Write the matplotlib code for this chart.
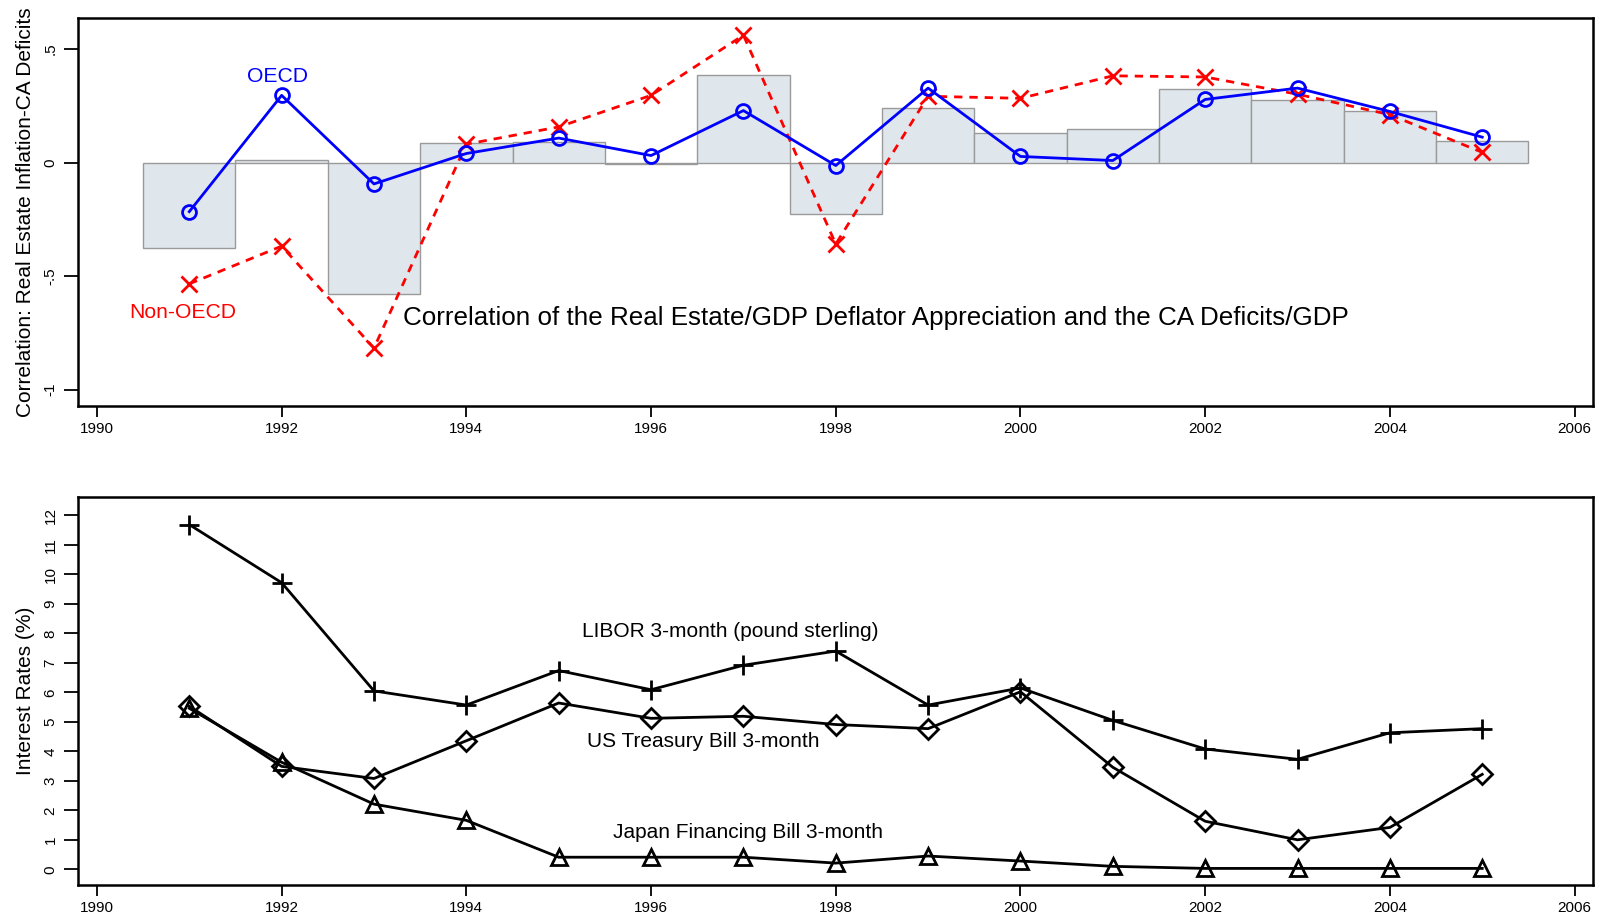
import numpy as np
import matplotlib
matplotlib.use("Agg")
import matplotlib.pyplot as plt

plt.rcParams['font.family'] = ['Liberation Sans', 'DejaVu Sans']

years = np.arange(1991, 2006)

# top panel: correlations
corr_all = [-0.377, 0.013, -0.58, 0.085, 0.09, -0.005, 0.386, -0.225,
            0.242, 0.13, 0.148, 0.323, 0.274, 0.229, 0.094]
corr_oecd = [-0.216, 0.296, -0.094, 0.04, 0.108, 0.031, 0.229, -0.013,
             0.328, 0.027, 0.009, 0.278, 0.328, 0.225, 0.112]
corr_non_oecd = [-0.534, -0.368, -0.817, 0.081, 0.157, 0.296, 0.561, -0.359,
                 0.292, 0.283, 0.382, 0.377, 0.301, 0.211, 0.045]

# bottom panel: interest rates (%)
libor = [11.69, 9.72, 6.05, 5.57, 6.74, 6.09, 6.92, 7.40,
         5.57, 6.15, 5.05, 4.08, 3.73, 4.63, 4.77]
us_tbill = [5.53, 3.49, 3.08, 4.36, 5.64, 5.12, 5.19, 4.91,
            4.77, 6.02, 3.46, 1.63, 1.00, 1.42, 3.22]
japan_fb = [5.46, 3.63, 2.21, 1.66, 0.41, 0.41, 0.41, 0.21,
            0.45, 0.28, 0.10, 0.03, 0.03, 0.03, 0.03]

xticks = np.arange(1990, 2007, 2)

fig = plt.figure(figsize=(15.98, 9.19), dpi=100)
ax1 = fig.add_axes([0.0491, 0.5587, 0.9478, 0.4213])
ax2 = fig.add_axes([0.0491, 0.0374, 0.9478, 0.4216])

def style_axes(ax):
    for s in ax.spines.values():
        s.set_linewidth(1.8)
    ax.tick_params(axis='x', direction='out', length=8, width=1.3, labelsize=11, pad=4)
    ax.tick_params(axis='y', direction='out', length=10, width=1.3, labelsize=11, pad=5)
    ax.set_xlim(1989.8, 2006.2)
    ax.set_xticks(xticks)
    ax.set_xticklabels([str(t) for t in xticks])
    for lab in ax.get_yticklabels():
        lab.set_rotation(90)
        lab.set_va('center')

# top
ax1.bar(years, corr_all, width=1.0, color='#dfe7ec', edgecolor='#9a9a9a', linewidth=1.0, zorder=1)
ax1.plot(years, corr_oecd, color='blue', lw=2, marker='o', ms=10, mfc='none', mew=2, zorder=3)
ax1.plot(years, corr_non_oecd, color='red', lw=2, ls=(0, (3, 2.5)), marker='x', ms=11, mew=2, zorder=2)
ax1.set_ylim(-1.07, 0.635)
ax1.set_yticks([-1, -0.5, 0, 0.5])
ax1.set_yticklabels(['-1', '-.5', '0', '.5'])
style_axes(ax1)
ax1.set_ylabel('Correlation: Real Estate Inflation-CA Deficits', fontsize=15, labelpad=6)
ax1.text(1991.95, 0.38, 'OECD', color='blue', fontsize=15.2, ha='center', va='center')
ax1.text(1990.93, -0.66, 'Non-OECD', color='red', fontsize=15.2, ha='center', va='center')
ax1.text(1998.43, -0.685, 'Correlation of the Real Estate/GDP Deflator Appreciation and the CA Deficits/GDP',
         fontsize=18.7, ha='center', va='center')

# bottom
ax2.plot(years, libor, color='black', lw=2, marker='+', ms=14, mew=2)
ax2.plot(years, us_tbill, color='black', lw=2, marker='D', ms=10, mfc='none', mew=2)
ax2.plot(years, japan_fb, color='black', lw=2, marker='^', ms=11, mfc='none', mew=2)
ax2.set_ylim(-0.52, 12.62)
ax2.set_yticks(np.arange(0, 13))
style_axes(ax2)
ax2.set_ylabel('Interest Rates (%)', fontsize=15, labelpad=6)
ax2.text(1996.86, 8.06, 'LIBOR 3-month (pound sterling)', fontsize=15, ha='center', va='center')
ax2.text(1996.56, 4.32, 'US Treasury Bill 3-month', fontsize=15, ha='center', va='center')
ax2.text(1997.05, 1.24, 'Japan Financing Bill 3-month', fontsize=15, ha='center', va='center')

fig.savefig('out.png', dpi=100)
